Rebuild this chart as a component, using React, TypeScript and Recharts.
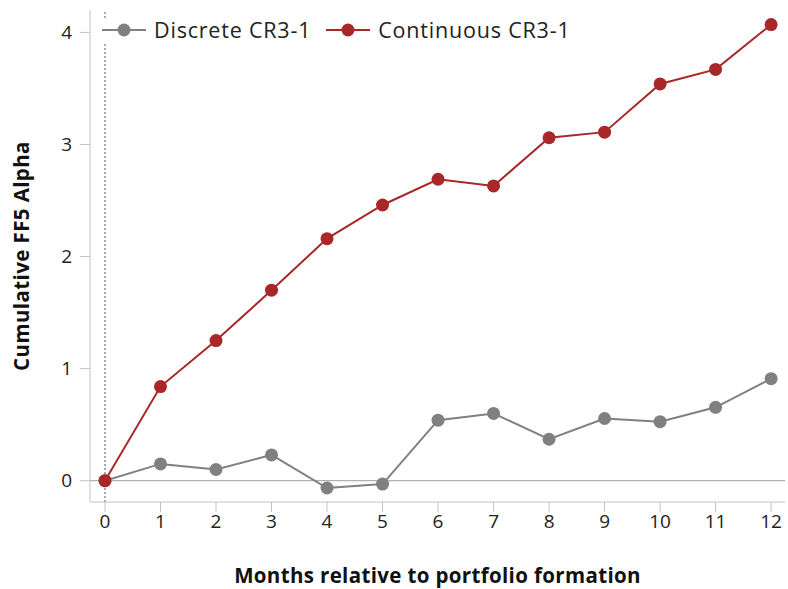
import { LineChart, Line, XAxis, YAxis, ReferenceLine } from "recharts";

const months = [0, 1, 2, 3, 4, 5, 6, 7, 8, 9, 10, 11, 12];
const discrete = [0, 0.15, 0.1, 0.23, -0.065, -0.03, 0.54, 0.6, 0.37, 0.555, 0.527, 0.655, 0.91];
const continuous = [0, 0.84, 1.25, 1.7, 2.16, 2.46, 2.69, 2.63, 3.06, 3.11, 3.54, 3.67, 4.07];
const yTicks = [0, 1, 2, 3, 4];

const RED = "#a8282a";
const GRAY = "#808080";
const AXIS = "#c4c4c4";
const FONT = "'Open Sans', sans-serif";

const data = months.map((m, i) => ({ month: m, discrete: discrete[i], continuous: continuous[i] }));

const LegendItem = ({ color, label }: { color: string; label: string }) => (
  <div style={{ display: "flex", alignItems: "center", marginRight: 14 }}>
    <svg width={46} height={16}>
      <line x1={1} y1={8} x2={45} y2={8} stroke={color} strokeWidth={2} />
      <circle cx={23} cy={8} r={6.5} fill={color} />
    </svg>
    <span style={{ marginLeft: 7, fontSize: 21.5, letterSpacing: 0.8, color: "#222", lineHeight: "24px" }}>{label}</span>
  </div>
);

const App = () => {
  return (
    <div style={{ position: "absolute", left: 0, top: 0, width: 788, height: 589, fontFamily: FONT, background: "#fff" }}>
      <LineChart width={788} height={589} data={data} margin={{ top: 10, right: 3, left: 0, bottom: 0 }}>
        <XAxis
          dataKey="month"
          type="number"
          domain={[-0.27, 12.25]}
          ticks={months}
          allowDataOverflow
          stroke={AXIS}
          tickSize={10}
          tickMargin={3}
          height={87}
          tick={{ fill: "#222", fontSize: 19, fontFamily: FONT }}
          label={{ value: "Months relative to portfolio formation", position: "insideBottom", offset: 6, fill: "#111", fontSize: 20.5, fontWeight: 700, fontFamily: FONT, style: { letterSpacing: 0.35 } }}
        />
        <YAxis
          type="number"
          domain={[-0.19, 4.2]}
          ticks={yTicks}
          allowDataOverflow
          stroke={AXIS}
          width={90}
          tickSize={10}
          tickMargin={8}
          tick={{ fill: "#222", fontSize: 19, fontFamily: FONT }}
          label={{ value: "Cumulative FF5 Alpha", angle: -90, position: "insideLeft", offset: 22, fill: "#111", fontSize: 20.5, fontWeight: 700, fontFamily: FONT, style: { textAnchor: "middle", letterSpacing: 0.4 } }}
        />
        <ReferenceLine y={0} stroke="#b0b0b0" strokeWidth={1.2} />
        <ReferenceLine x={0} stroke="#555" strokeDasharray="2 2" strokeWidth={1} />
        <Line dataKey="discrete" stroke={GRAY} strokeWidth={2} dot={{ r: 6.5, fill: GRAY, stroke: GRAY, strokeWidth: 0 }} isAnimationActive={false} />
        <Line dataKey="continuous" stroke={RED} strokeWidth={2} dot={{ r: 6.5, fill: RED, stroke: RED, strokeWidth: 0 }} isAnimationActive={false} />
      </LineChart>
      <div style={{ position: "absolute", left: 101, top: 18, display: "flex", background: "#fff" }}>
        <LegendItem color={GRAY} label="Discrete CR3-1" />
        <LegendItem color={RED} label="Continuous CR3-1" />
      </div>
    </div>
  );
};

export default App;
